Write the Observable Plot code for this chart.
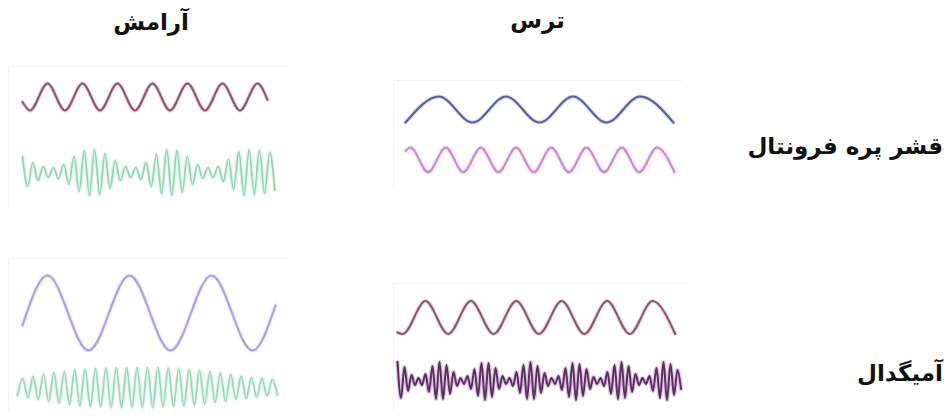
<!DOCTYPE html>
<html><head><meta charset="utf-8">
<script src="https://cdn.jsdelivr.net/npm/d3@7"></script>
<script src="https://cdn.jsdelivr.net/npm/@observablehq/plot@0.6"></script>
<style>
body{margin:0;background:#fff;}
#root{position:relative;width:950px;height:418px;overflow:hidden;font-family:"DejaVu Sans",sans-serif;}
.lbl{position:absolute;direction:rtl;font-weight:bold;font-size:23px;line-height:1;color:#111;white-space:nowrap;}
.panel{position:absolute;}
</style></head><body><div id="root"></div>
<script>
// ---- labels ----
const columnLabels = ["آرامش", "ترس"];              // calm, fear
const rowLabels = ["قشر پره فرونتال", "آمیگدال"];   // prefrontal cortex, amygdala

// ---- calm / prefrontal: slow wave (time ms, amplitude) ----
const calmPfcSlowT = [14, 21.5, 39, 56.5, 74, 91.5, 109, 126.5, 144, 161.5, 179, 196.5, 214, 231.5, 249, 259];
const calmPfcSlowV = [-5, -13.5, 13.5, -13.5, 13.5, -13.5, 13.5, -13.5, 13.5, -13.5, 13.5, -13.5, 13.5, -13.5, 13.5, -3];
// calm / prefrontal: fast beating wave (extrema, every 5.15 ms from 14 ms)
const calmPfcFastStart = 14, calmPfcFastStep = 5.15;
const calmPfcFastV = [16,-14,10,-8,6,-5,5,-6,8,-12, 16,-19,22,-23,23,-22,19,-16,12,-8,
  6,-5,5,-7,10,-14,18,-21,23,-23, 22,-20,16,-12,8,-6,5,-5,6,-9, 13,-17,21,-23,23,-22,22,-21,20,-18];

// ---- fear / prefrontal ----
const fearPfcSlowT = [12, 45.5, 79, 112.5, 146, 179.5, 213, 246.5, 280];
const fearPfcSlowV = [-13, 13, -13, 13, -13, 13, -13, 13, -13];
const fearPfcMidT = [12, 17, 34.6, 52.2, 69.8, 87.4, 105, 122.6, 140.2, 157.8, 175.4, 193, 210.6, 228.2, 245.8, 263.4, 281];
const fearPfcMidV = [9, 12.3, -12.3, 12.3, -12.3, 12.3, -12.3, 12.3, -12.3, 12.3, -12.3, 12.3, -12.3, 12.3, -12.3, 12.3, -12.3];

// ---- calm / amygdala ----
const calmAmySlowT = [14, 39, 80, 121, 162, 203, 244, 267];
const calmAmySlowV = [-12.5, 37.5, -37.5, 37.5, -37.5, 37.5, -37.5, 7.5];
const calmAmyFastStart = 9, calmAmyFastStep = 5.2;
const calmAmyFastV = [-8,9,-10,11,-12,13,-14,15,-15.5,16, -17,17.5,-18,18.5,-19,19,-19.5,19.5,-20,20,
  -20,20,-20,20,-20,20,-20,20,-19.5,19.5, -19,19,-18.5,18,-17.5,17,-16.5,16,-15,14.5,
  -14,13,-12,11.5,-11,10,-9.5,9,-8.5,8,-7.5];

// ---- fear / amygdala ----
const fearAmySlowT = [4, 9.3, 32, 54.7, 77.4, 100.1, 122.8, 145.5, 168.2, 190.9, 213.6, 236.3, 259, 281.7];
const fearAmySlowV = [-15, -16.5, 16.5, -16.5, 16.5, -16.5, 16.5, -16.5, 16.5, -16.5, 16.5, -16.5, 16.5, -16.5];
const fearAmyFastStart = 4, fearAmyFastStep = 3.5;
const fearAmyFastV = [19,-17,14,-10,6,-4,3,-4,7,-11,15,-18,19,
  -18,16,-13,9,-5,3,-3,5,-8,12,-15,18,-19,
  18,-16,13,-8,5,-3,3,-5,9,-12,16,-18,19,
  -18,15,-12,8,-5,3,-3,5,-9,13,-16,18,-19,
  17,-15,12,-8,4,-3,3,-5,9,-13,16,-18,19,
  -17,15,-11,7,-4,3,-3,5,-10,13,-17,19,-19,
  17,-14,11,-8];

// ---- build series ----
const fromT = (ts, vs, base) => ts.map((t, i) => ({t, v: vs[i] + base}));
const fromStep = (t0, dt, vs, base) => vs.map((v, i) => ({t: t0 + dt * i, v: v + base}));

// layout (pixels) for the four panels
const panels = [
  {left: 8, top: 66, w: 279, h: 141, waves: [
    {data: fromT(calmPfcSlowT, calmPfcSlowV, 40), stroke: "#8b5869", halo: "#e7b9c6", sw: 2},
    {data: fromStep(calmPfcFastStart, calmPfcFastStep, calmPfcFastV, -35.5), stroke: "#8fd6b1", halo: "#d3f0e1", sw: 1.7}
  ]},
  {left: 393, top: 80, w: 289, h: 110, waves: [
    {data: fromT(fearPfcSlowT, fearPfcSlowV, 26), stroke: "#5a5daa", halo: "#bfc1ee", sw: 2},
    {data: fromT(fearPfcMidT, fearPfcMidV, -24.4), stroke: "#cf86d0", halo: "#f1cdf0", sw: 2}
  ]},
  {left: 8, top: 258, w: 279, h: 154, waves: [
    {data: fromT(calmAmySlowT, calmAmySlowV, 22.5), stroke: "#a4a1e9", halo: "#dcdbf8", sw: 2},
    {data: fromStep(calmAmyFastStart, calmAmyFastStep, calmAmyFastV, -52), stroke: "#96d9b6", halo: "#d5f1e2", sw: 1.7}
  ]},
  {left: 393, top: 283, w: 294, h: 127, waves: [
    {data: fromT(fearAmySlowT, fearAmySlowV, 29.5), stroke: "#8a5868", halo: "#e6bac7", sw: 2},
    {data: fromStep(fearAmyFastStart, fearAmyFastStep, fearAmyFastV, -34), stroke: "#5b2e5f", halo: "#c7a4cf", sw: 2}
  ]}
];

const root = document.getElementById("root");
for (const p of panels) {
  const marks = [Plot.frame({stroke: "#f3f3f3"})];
  for (const wv of p.waves) marks.push(Plot.lineY(wv.data, {x: "t", y: "v", curve: "monotone-x", stroke: wv.halo, strokeWidth: wv.sw + 2.2, strokeOpacity: 0.6}));
  for (const wv of p.waves) marks.push(Plot.lineY(wv.data, {x: "t", y: "v", curve: "monotone-x", stroke: wv.stroke, strokeWidth: wv.sw}));
  const svg = Plot.plot({
    width: p.w, height: p.h, margin: 0,
    x: {domain: [0, p.w], axis: null},
    y: {domain: [-p.h / 2, p.h / 2], axis: null},
    marks
  });
  const div = document.createElement("div");
  div.className = "panel";
  div.style.left = p.left + "px";
  div.style.top = p.top + "px";
  div.appendChild(svg);
  root.appendChild(div);
}

// text labels: right edge / vertical centre
const labelPos = [
  {text: columnLabels[0], right: 189, cy: 24},
  {text: columnLabels[1], right: 565, cy: 22},
  {text: rowLabels[0], right: 943, cy: 148},
  {text: rowLabels[1], right: 943, cy: 375}
];
for (const l of labelPos) {
  const d = document.createElement("div");
  d.className = "lbl";
  d.textContent = l.text;
  d.style.right = (950 - l.right) + "px";
  d.style.top = (l.cy - 13) + "px";
  root.appendChild(d);
}
</script></body></html>
